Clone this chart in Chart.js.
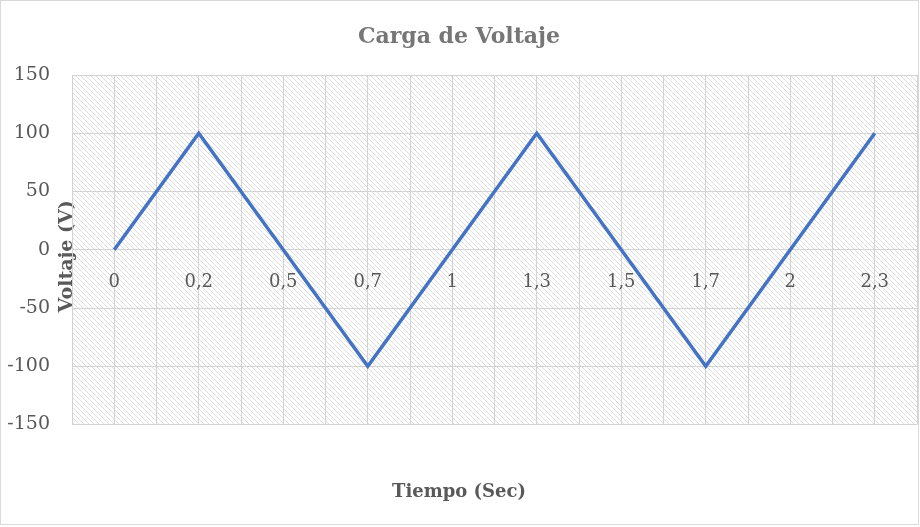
<!DOCTYPE html>
<html>
<head>
<meta charset="utf-8">
<script src="https://cdn.jsdelivr.net/npm/chart.js@4/dist/chart.umd.min.js"></script>
<style>
  html, body { margin: 0; padding: 0; background: #fff; }
  #frame { position: absolute; left: 0; top: 0; width: 917px; height: 523px; border: 1px solid #d9d9d9; }
  canvas { display: block; }
</style>
</head>
<body>
<div id="frame"><canvas id="chart" width="917" height="523"></canvas></div>
<script>
// Datos del gráfico
const tiempo = ["0", "0,2", "0,5", "0,7", "1", "1,3", "1,5", "1,7", "2", "2,3"];
const voltaje = [0, 100, 0, -100, 0, 100, 0, -100, 0, 100];
const yMin = -150;
const yMax = 150;
const yStep = 50;

const gridColor = "#d3d3d3";
const textColor = "#595959";
const serif = "'DejaVu Serif', serif";

// Hatched plot background (light diagonal lines)
function makeHatch() {
  const tile = document.createElement("canvas");
  tile.width = 5;
  tile.height = 5;
  const t = tile.getContext("2d");
  t.fillStyle = "#fff";
  t.fillRect(0, 0, 5, 5);
  t.fillStyle = "#dedede";
  for (let i = 0; i < 5; i++) t.fillRect(i, i, 1, 1);
  return t.createPattern(tile, "repeat");
}

const hatchBackground = {
  id: "hatchBackground",
  beforeDraw(chart) {
    const { ctx, chartArea } = chart;
    ctx.save();
    ctx.fillStyle = makeHatch();
    ctx.fillRect(chartArea.left, chartArea.top, chartArea.right - chartArea.left, chartArea.bottom - chartArea.top);
    ctx.restore();
  }
};

const ctx = document.getElementById("chart").getContext("2d");
new Chart(ctx, {
  type: "line",
  data: {
    labels: tiempo,
    datasets: [
      {
        label: "Voltaje",
        data: voltaje,
        xAxisID: "x",
        borderColor: "#4472C4",
        backgroundColor: "#4472C4",
        borderWidth: 3.5,
        pointRadius: 0,
        tension: 0,
        fill: false
      }
    ]
  },
  options: {
    responsive: false,
    animation: false,
    layout: { padding: { left: 0, right: 1, top: 0, bottom: 0 } },
    plugins: {
      legend: { display: false },
      tooltip: { enabled: false },
      title: {
        display: true,
        text: "Carga de Voltaje",
        color: "#767676",
        font: { family: serif, size: 22, weight: "bold" },
        padding: { top: 23, bottom: 24.6 }
      },
      subtitle: {
        display: true,
        position: "bottom",
        text: "Tiempo (Sec)",
        color: textColor,
        font: { family: serif, size: 18, weight: "bold" },
        padding: { top: 56.7, bottom: 21.2 }
      }
    },
    scales: {
      x: {
        type: "category",
        offset: true,
        position: { y: 0 },
        grid: { offset: true, color: gridColor, drawTicks: false },
        border: { color: gridColor },
        ticks: { color: textColor, font: { family: serif, size: 18 }, padding: 22, maxRotation: 0, autoSkip: false }
      },
      x2: {
        type: "category",
        offset: true,
        position: { y: 0 },
        grid: { offset: false, color: gridColor, drawTicks: false },
        border: { display: false },
        ticks: { display: false }
      },
      y: {
        min: yMin,
        max: yMax,
        ticks: { stepSize: yStep, color: textColor, font: { family: serif, size: 19 }, padding: 22 },
        grid: { color: gridColor, drawTicks: false },
        border: { color: gridColor },
        title: {
          display: true,
          text: "Voltaje (V)  ",
          color: textColor,
          font: { family: serif, size: 19, weight: "bold" },
          padding: { top: 54.5, bottom: 0 }
        },
        afterFit(scale) {
          scale.width = 71;
        }
      }
    }
  },
  plugins: [hatchBackground]
});
</script>
</body>
</html>
